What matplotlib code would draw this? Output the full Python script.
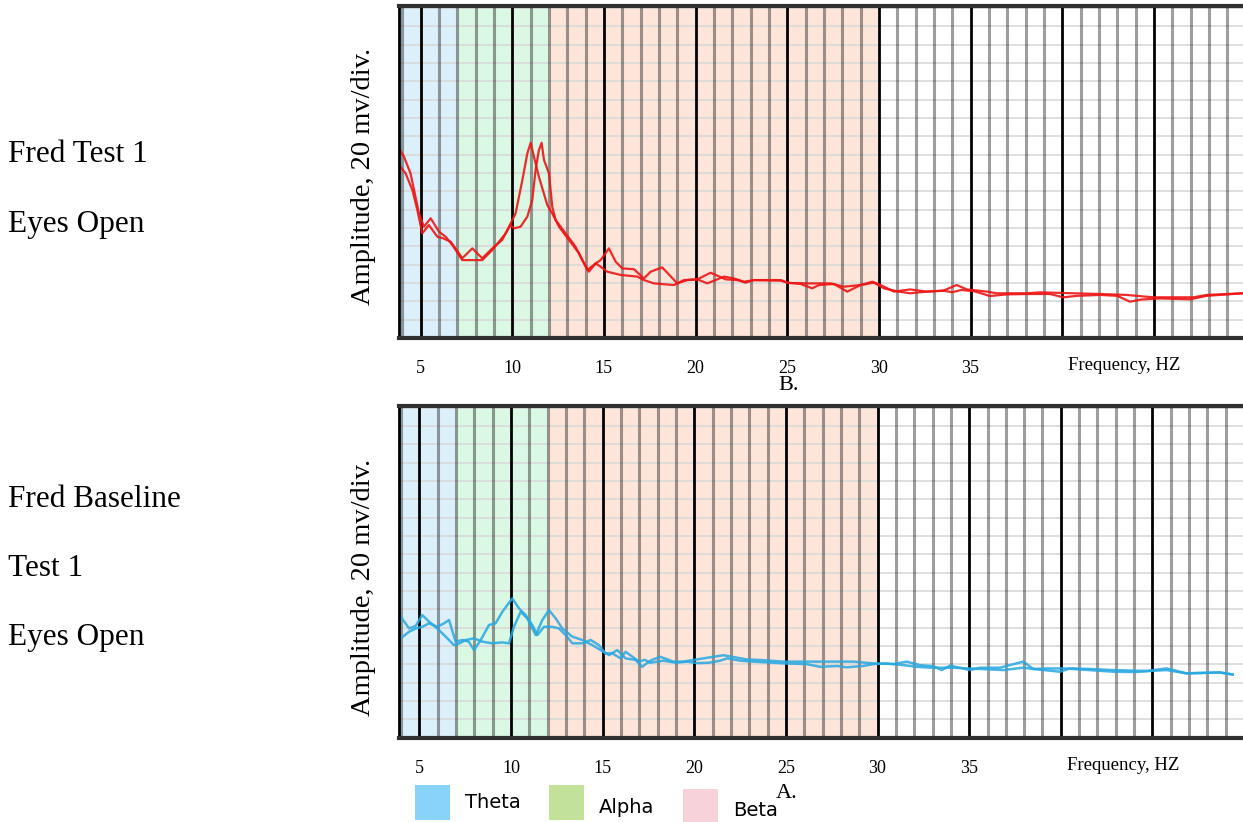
import matplotlib
matplotlib.use("Agg")
import matplotlib.pyplot as plt
from matplotlib.patches import Rectangle

# EEG amplitude spectra (x in Hz, y in divisions)
bands = ["Theta", "Alpha", "Beta"]
band_edges = [(3.0, 7.0), (7.0, 12.0), (12.0, 30.0)]
band_fill = ["#dcf0fc", "#daf8e4", "#fde5da"]
legend_fill = ["#87d4f8", "#c2e29a", "#f8d2da"]
tick_hz = [5, 10, 15, 20, 25, 30, 35, 40, 45]
tick_text = ["5", "10", "15", "20", "25", "30", "35", "", ""]

# B. Fred Test 1, eyes open (red, two overlaid sweeps)
test_hz_a = [3.82, 4.18, 4.55, 4.82, 5.09, 5.45, 5.91, 6.20, 6.64, 7.09,
             7.27, 7.82, 8.36, 8.91, 9.45, 9.91, 10.18, 10.55, 10.82, 11.00,
             11.18, 11.45, 11.91, 12.18, 12.55, 13.09, 13.64, 14.09, 14.55, 14.82,
             15.18, 15.91, 16.82, 17.18, 17.73, 18.82, 19.36, 20.09, 20.64, 21.55,
             22.09, 22.64, 23.20, 24.64, 25.10, 26.09, 27.36, 28.09, 29.00, 29.73,
             30.27, 31.09, 31.70, 32.60, 33.50, 34.00, 34.50, 35.20, 36.06, 37.00,
             38.05, 39.33, 40.06, 40.80, 42.06, 43.00, 43.70, 44.30, 45.33, 46.97,
             47.88, 49.86]
test_amp_a = [9.44, 8.98, 8.07, 6.98, 5.71, 6.16, 5.53, 5.45, 5.25, 4.62,
              4.35, 4.89, 4.35, 4.89, 5.35, 6.25, 6.80, 8.62, 10.07, 10.65,
              9.89, 8.80, 7.25, 6.80, 6.07, 5.35, 4.62, 3.71, 4.07, 3.89,
              3.62, 3.44, 3.35, 3.16, 2.98, 2.89, 3.16, 3.20, 2.98, 3.35,
              3.25, 3.07, 3.16, 3.13, 3.00, 2.98, 2.98, 2.80, 2.89, 3.02,
              2.71, 2.53, 2.44, 2.53, 2.58, 2.50, 2.62, 2.55, 2.29, 2.38,
              2.40, 2.40, 2.22, 2.30, 2.35, 2.30, 1.98, 2.10, 2.16, 2.11,
              2.30, 2.44]
test_hz_b = [3.82, 4.09, 4.45, 4.91, 5.18, 5.55, 6.00, 6.36, 6.73, 7.09,
             7.27, 8.36, 8.91, 9.64, 9.91, 10.09, 10.45, 10.82, 11.09, 11.27,
             11.45, 11.60, 11.73, 12.00, 12.18, 12.36, 12.91, 13.45, 13.82, 14.18,
             14.55, 14.82, 15.27, 15.64, 16.00, 16.64, 17.18, 17.55, 18.18, 19.00,
             19.55, 20.09, 20.82, 21.64, 22.27, 22.73, 23.18, 24.64, 25.00, 25.73,
             26.36, 26.73, 27.55, 28.27, 29.00, 29.64, 30.09, 30.82, 31.70, 32.60,
             33.50, 34.24, 34.80, 35.90, 36.42, 38.05, 38.80, 40.60, 42.06, 43.50,
             44.97, 47.15, 47.88, 49.86]
test_amp_b = [10.35, 9.89, 8.98, 6.80, 6.07, 6.53, 5.80, 5.53, 5.07, 4.53,
              4.25, 4.25, 4.80, 5.71, 6.16, 5.98, 6.07, 6.62, 7.53, 9.16,
              10.25, 10.65, 9.71, 8.98, 7.16, 6.44, 5.71, 4.98, 4.25, 3.62,
              4.07, 4.25, 4.89, 4.16, 3.80, 3.75, 3.25, 3.62, 3.85, 2.98,
              3.16, 3.20, 3.56, 3.20, 3.16, 3.02, 3.16, 3.16, 3.02, 2.95,
              2.71, 2.89, 2.95, 2.53, 2.89, 3.07, 2.89, 2.53, 2.65, 2.53,
              2.58, 2.89, 2.65, 2.53, 2.44, 2.44, 2.49, 2.44, 2.40, 2.35,
              2.22, 2.22, 2.35, 2.44]

# A. Fred baseline test 1, eyes open (blue)
base_hz_a = [3.98, 4.44, 4.80, 5.16, 5.53, 5.98, 6.44, 6.89, 7.20, 7.53,
             7.98, 8.44, 8.98, 9.53, 9.89, 10.16, 10.53, 10.89, 11.35, 11.71,
             12.07, 12.44, 12.80, 13.35, 13.89, 14.44, 14.89, 15.35, 15.80, 16.25,
             16.80, 17.16, 17.60, 18.13, 18.86, 19.40, 20.50, 21.60, 22.86, 23.60,
             24.86, 26.10, 28.70, 29.80, 30.86, 31.60, 32.30, 33.04, 33.50, 33.95,
             35.04, 35.60, 36.68, 37.95, 38.50, 39.95, 40.50, 41.60, 42.86, 44.67,
             45.77, 46.86, 48.68, 49.37]
base_amp_a = [6.60, 5.96, 6.10, 6.69, 6.33, 5.96, 5.51, 5.05, 5.15, 5.33,
              5.42, 5.24, 5.15, 5.20, 5.15, 6.05, 6.87, 6.51, 5.60, 6.42,
              6.96, 6.51, 5.96, 5.51, 5.33, 5.05, 4.78, 4.51, 4.78, 4.33,
              4.24, 3.87, 4.20, 4.42, 4.15, 4.15, 4.33, 4.50, 4.27, 4.24,
              4.15, 4.15, 4.15, 4.05, 4.02, 4.15, 3.96, 3.90, 3.69, 3.93,
              3.69, 3.82, 3.82, 4.15, 3.75, 3.60, 3.78, 3.75, 3.69, 3.64,
              3.78, 3.51, 3.56, 3.45]
base_hz_b = [3.98, 4.44, 4.80, 5.16, 5.53, 5.98, 6.35, 6.62, 6.98, 7.35,
             7.70, 7.98, 8.35, 8.80, 9.16, 9.53, 10.07, 10.44, 10.80, 11.16,
             11.44, 11.80, 12.25, 12.62, 12.98, 13.35, 13.89, 14.35, 14.80, 15.16,
             15.53, 15.98, 16.25, 16.62, 16.98, 17.30, 17.60, 18.30, 19.00, 19.60,
             20.20, 20.80, 21.40, 21.80, 22.50, 23.20, 24.30, 25.00, 26.10, 26.86,
             27.80, 28.30, 29.20, 29.80, 30.50, 31.40, 32.10, 32.86, 33.40, 34.13,
             35.00, 36.86, 37.95, 38.50, 39.20, 40.20, 42.86, 44.10, 44.86, 45.77,
             46.86, 48.68, 49.37]
base_amp_b = [5.42, 5.78, 5.96, 6.05, 6.24, 6.05, 6.24, 6.42, 5.24, 5.33,
              5.24, 4.78, 5.33, 6.15, 6.24, 6.87, 7.60, 7.05, 6.69, 6.15,
              5.60, 6.05, 6.05, 5.96, 5.60, 5.15, 5.15, 5.33, 5.05, 4.60,
              4.60, 4.33, 4.69, 4.42, 4.15, 4.25, 4.09, 4.20, 4.09, 4.15,
              4.07, 4.09, 4.20, 4.33, 4.20, 4.15, 4.09, 4.05, 4.02, 3.87,
              3.91, 3.84, 3.91, 4.02, 4.05, 3.96, 3.87, 3.82, 3.82, 3.82,
              3.78, 3.69, 3.82, 3.75, 3.78, 3.78, 3.60, 3.58, 3.64, 3.69,
              3.51, 3.56, 3.45]

serif = "Liberation Serif"
W, H = 1243, 822
fig = plt.figure(figsize=(W / 100, H / 100), dpi=100)


def make_panel(top_px, bot_px, xlo, xhi):
    ax = fig.add_axes([399 / W, 1 - bot_px / H, (W - 399) / W, (bot_px - top_px) / H])
    ax.set_xlim(xlo, xhi)
    ax.set_ylim(0, (bot_px - top_px) / 18.33)
    for (lo, hi), c in zip(band_edges, band_fill):
        ax.axvspan(lo, hi, color=c, lw=0, zorder=0)
    ax.set_axisbelow(True)
    # horizontal grid must sit under the vertical one
    ax.yaxis.set_zorder(0.3)
    ax.xaxis.set_zorder(0.5)
    ax.set_xticks(tick_hz)
    ax.set_xticklabels(tick_text, fontfamily=serif, fontsize=13)
    ax.set_xticks(range(4, 50), minor=True)
    ax.set_yticks(range(0, 19))
    ax.tick_params(axis="x", which="both", length=0, pad=16)
    ax.tick_params(axis="y", length=0, labelleft=False)
    ax.grid(which="major", axis="y", color="#d9d9d9", lw=1.2)
    ax.grid(which="minor", axis="x", color="black", alpha=0.38, lw=2.2)
    ax.grid(which="major", axis="x", color="black", lw=2.0)
    for s in ("top", "bottom"):
        ax.spines[s].set_linewidth(3)
        ax.spines[s].set_color("#303030")
    ax.spines["left"].set_linewidth(2)
    ax.spines["right"].set_visible(False)
    ax.annotate("Frequency, HZ", xy=(43.4, 0), xycoords=("data", "axes fraction"),
                xytext=(0, -20), textcoords="offset points", ha="center", va="center",
                fontfamily=serif, fontsize=13.5)
    return ax


ax1 = make_panel(6, 338, 3.82, 49.86)
ax1.plot(test_hz_a, test_amp_a, color="#ee1515", lw=1.6, alpha=0.9)
ax1.plot(test_hz_b, test_amp_b, color="#ee1515", lw=1.6, alpha=0.9)

ax2 = make_panel(406, 737.7, 3.89, 49.94)
ax2.plot(base_hz_a, base_amp_a, color="#28a8e0", lw=1.8, alpha=0.85)
ax2.plot(base_hz_b, base_amp_b, color="#28a8e0", lw=1.8, alpha=0.85)

# y labels and panel letters
fig.text(363 / W, 1 - 176 / H, "Amplitude, 20 mv/div.", rotation=90, ha="center",
         va="center", fontfamily=serif, fontsize=20.5)
fig.text(363 / W, 1 - 587 / H, "Amplitude, 20 mv/div.", rotation=90, ha="center",
         va="center", fontfamily=serif, fontsize=20.5)
fig.text(789 / W, 1 - 385 / H, "B.", ha="center", va="center", fontfamily=serif, fontsize=16)
fig.text(787 / W, 1 - 793 / H, "A.", ha="center", va="center", fontfamily=serif, fontsize=16)

# side captions
for txt, base in [("Fred Test 1", 161.7), ("Eyes Open", 231.7),
                  ("Fred Baseline", 507), ("Test 1", 576), ("Eyes Open", 645)]:
    fig.text(8 / W, 1 - base / H, txt, ha="left", va="baseline",
             fontfamily=serif, fontsize=22.5)

# band legend
sq_top = [785, 785, 789]
txt_mid = [802, 807, 810]
for i, (name, c) in enumerate(zip(bands, legend_fill)):
    x0 = 415 + 134 * i
    fig.patches.append(Rectangle((x0 / W, 1 - (sq_top[i] + 35) / H), 35 / W, 35 / H,
                                 transform=fig.transFigure, facecolor=c,
                                 edgecolor="none"))
    fig.text((x0 + 50) / W, 1 - txt_mid[i] / H, name, ha="left", va="center",
             fontfamily="DejaVu Sans", fontsize=14)

fig.savefig("out.png", dpi=100)
